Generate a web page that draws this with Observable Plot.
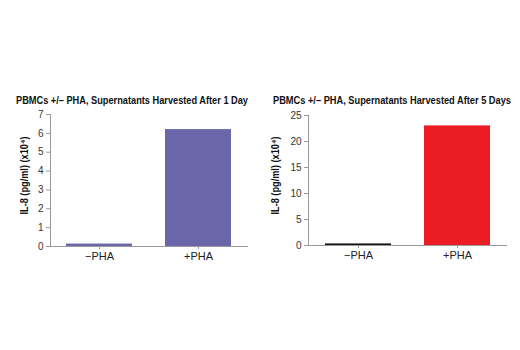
<!DOCTYPE html>
<html>
<head>
<meta charset="utf-8">
<script src="https://cdn.jsdelivr.net/npm/d3@7"></script>
<script src="https://cdn.jsdelivr.net/npm/@observablehq/plot@0.6"></script>
<style>
  html, body { margin: 0; padding: 0; background: #fff; }
  #wrap { position: relative; width: 520px; height: 350px; overflow: hidden;
    font-family: "Liberation Sans", Arial, sans-serif; }
  .title { position: absolute; top: 93px; font-weight: bold; font-size: 11.5px; color: #111;
    white-space: nowrap; transform-origin: 0 0; line-height: 14px; }
  .plot { position: absolute; top: 105px; }
</style>
</head>
<body>
<div id="wrap"></div>
<script>
const categories = ["\u2212PHA", "+PHA"];
const day1Values = [0.13, 6.2];
const day5Values = [0.3, 23];
const day1Colors = ["#6b65a9", "#6b65a9"];
const day5Colors = ["#111111", "#ec1c24"];
const day1Ticks = [0, 1, 2, 3, 4, 5, 6, 7];
const day5Ticks = [0, 5, 10, 15, 20, 25];
const titles = ["PBMCs +/\u2013 PHA, Supernatants Harvested After 1 Day",
                "PBMCs +/\u2013 PHA, Supernatants Harvested After 5 Days"];
const yLabel = "IL-8 (pg/ml) (x10\u2074)";

const font = '"Liberation Sans", Arial, sans-serif';

function makeChart(values, colors, ticks, domainMax, opts) {
  const data = categories.map((c, i) => ({cat: c, v: values[i], color: colors[i]}));
  return Plot.plot({
    width: 260,
    height: 165,
    marginLeft: opts.marginLeft,
    marginRight: opts.marginRight,
    marginTop: opts.marginTop,
    marginBottom: opts.marginBottom,
    style: {fontFamily: font, background: "transparent", overflow: "visible"},
    x: {domain: categories, paddingInner: 0.33, paddingOuter: 0.165, label: null},
    y: {domain: [0, domainMax], label: null},
    marks: [
      Plot.barY(data, {x: "cat", y: "v", fill: "color"}),
      Plot.ruleY([0], {stroke: "#9a9a9a", strokeWidth: 1}),
      Plot.frame({anchor: "left", stroke: "#9a9a9a"}),
      Plot.axisY({ticks: ticks, tickFormat: "d", tickSize: 4, tickPadding: 3, fontSize: 10,
                  stroke: "#9a9a9a", color: "#333", label: null}),
      Plot.axisX({tickSize: 3, tickPadding: 3, fontSize: 11, stroke: "#9a9a9a", color: "#222", label: null}),
      Plot.text([yLabel], {frameAnchor: "left", textAnchor: "middle", dx: opts.labelDx, dy: -5,
                 rotate: -90, fontWeight: "bold", fontSize: 10.5, fill: "#111"})
    ]
  });
}

const wrap = document.getElementById("wrap");
const c1 = makeChart(day1Values, day1Colors, day1Ticks, 7,
  {marginLeft: 50, marginRight: 12, marginTop: 9, marginBottom: 24, labelDx: -26});
const c2 = makeChart(day5Values, day5Colors, day5Ticks, 25,
  {marginLeft: 48, marginRight: 13, marginTop: 10, marginBottom: 25, labelDx: -33});
c1.classList.add("plot"); c1.style.left = "0px";
c2.classList.add("plot"); c2.style.left = "260px";
wrap.appendChild(c1); wrap.appendChild(c2);

// condense the rotated axis label to the reference's narrow face
[c1, c2].forEach(svg => {
  d3.select(svg).selectAll("text").filter(function() { return this.textContent === yLabel; })
    .attr("textLength", 78).attr("lengthAdjust", "spacingAndGlyphs");
});

const titleLeft = [16, 273];
const titleWidth = [232, 238];
titles.forEach((t, i) => {
  const d = document.createElement("div");
  d.className = "title";
  d.textContent = t;
  d.style.left = titleLeft[i] + "px";
  wrap.appendChild(d);
  const w = d.getBoundingClientRect().width;
  d.style.transform = `scaleX(${titleWidth[i] / w})`;
});
</script>
</body>
</html>
